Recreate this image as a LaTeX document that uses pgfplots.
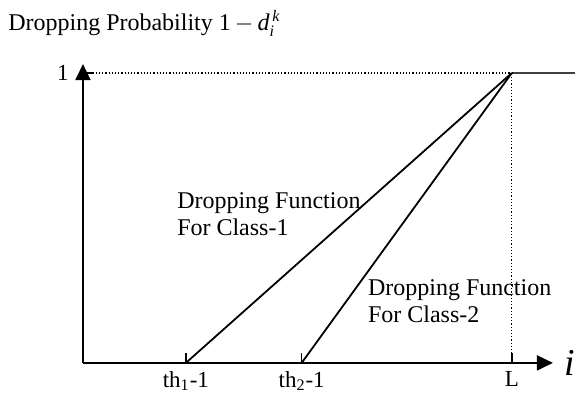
\documentclass[border=0pt]{standalone}
\usepackage{fontspec}
\setmainfont{Liberation Serif}
\usepackage{amsmath}
\usepackage{pgfplots}
\pgfplotsset{compat=1.18}
\usetikzlibrary{arrows.meta}

\begin{document}
\fontsize{12}{14}\selectfont
\begin{tikzpicture}
\begin{axis}[
  x=214.5pt, y=145pt,
  xmin=0, xmax=1.096, ymin=0, ymax=1.031,
  axis lines=left,
  axis line style={black, line width=0.9pt, -{Triangle[length=8pt,width=7.5pt]}},
  clip=false,
  xtick={0.24,0.51,1},
  xticklabels={th\textsubscript{1}-1, th\textsubscript{2}-1, L},
  ytick={1}, yticklabels={1},
  tick align=inside, major tick length=5pt,
  tick style={black, line width=0.8pt},
  ticklabel style={font=\fontsize{11.5}{13.5}\selectfont},
  yticklabel style={xshift=-3pt},
  /pgf/number format/assume math mode=true,
]
% invisible box so the page has the reference's size
\path (axis cs:-0.1935,-0.1207) rectangle (axis cs:1.149,1.252);

% dropping functions
\addplot[black, line width=0.9pt] coordinates {(0.24,0) (1,1)};
\addplot[black, line width=0.9pt] coordinates {(0.51,0) (1,1)};
\addplot[black!75, line width=1.2pt] coordinates {(1,1) (1.147,1)};

% guide lines
\addplot[black, line width=0.6pt, densely dotted] coordinates {(0,1) (1,1)};
\addplot[black, line width=0.6pt, densely dotted] coordinates {(1,0) (1,1)};

% texts
\node[anchor=base west, inner sep=0pt] at (axis cs:-0.175,1.148)
  {Dropping Probability 1\,$-$\,\textit{d}$_{\textit{i}}^{\,\textit{k}}$};
\node[anchor=base west, inner sep=0pt] at (axis cs:0.219,0.531) {Dropping Function};
\node[anchor=base west, inner sep=0pt] at (axis cs:0.219,0.438) {For Class-1};
\node[anchor=base west, inner sep=0pt] at (axis cs:0.664,0.234) {Dropping Function};
\node[anchor=base west, inner sep=0pt] at (axis cs:0.664,0.141) {For Class-2};
\node[anchor=west, inner sep=0pt, font=\fontsize{19}{19}\selectfont] at (axis cs:1.122,0.0) {\textit{i}};
\end{axis}
\end{tikzpicture}
\end{document}
